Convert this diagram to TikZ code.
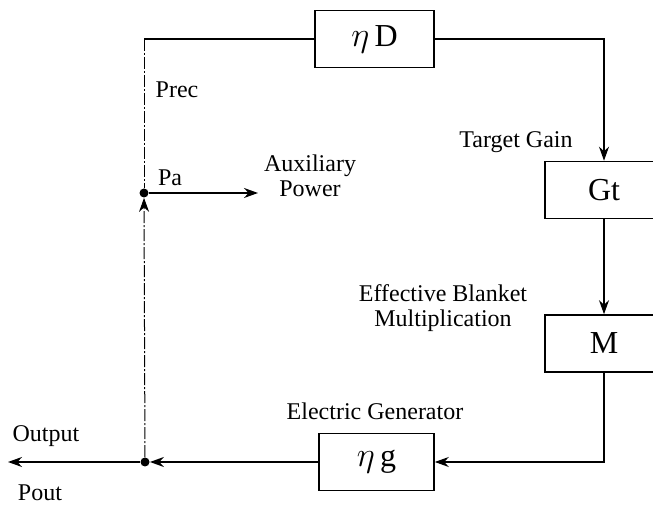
\documentclass[tikz,border=0pt]{standalone}
\usepackage{fontspec}
\setmainfont{Liberation Serif}
\usetikzlibrary{arrows.meta}

\begin{document}
\begin{tikzpicture}[x=.5pt,y=-.5pt,>={Stealth[length=7pt,width=5pt]},
 every node/.style={font=\fontsize{12}{12.5}\selectfont},
 block/.style={draw,line width=.8pt,minimum height=28.5pt,
   font=\fontsize{16}{18}\selectfont},
 link/.style={line width=.8pt},
 feed/.style={line width=.5pt,dash pattern=on 6pt off 1pt on 1pt off 1pt},
 junction/.style={circle,fill,inner sep=0pt,minimum size=4.5pt}]
 \clip (0,0) rectangle (653,506);
 \node[block,minimum width=59.5pt] (etaD) at (374.5,39) {$\eta$\,D};
 \node[block,minimum width=59pt] (Gt) at (604,190) {Gt};
 \node[block,minimum width=59pt] (M) at (604,343.5) {M};
 \node[block,minimum width=57.5pt] (etag) at (376.5,462) {$\eta$\,g};
 \node[junction] (pa) at (144,193) {};
 \node[junction] (out) at (145,462) {};
 \coordinate (tl) at (144,39);
 \coordinate (tr) at (604,39);
 \coordinate (br) at (604,462);
 \coordinate (aux) at (258,193);
 \coordinate (pout) at (8,462);
 \draw[link] (etaD.west) -- (tl);
 \draw[feed] (tl) -- (pa);
 \draw[link,->] (etaD.east) -- (tr) -- (Gt.north);
 \draw[link,->] (Gt) -- (M);
 \draw[link,->] (M) -- (br) -- (etag);
 \draw[link,->] (etag) -- (out);
 \draw[link,->] (out) -- (pout);
 \draw[feed,->] (out) -- (pa);
 \draw[link,->] (pa) -- (aux);
 \node (prec) at (177,90) {Prec};
 \node (palbl) at (170,178) {Pa};
 \node[align=center] (auxlbl) at (310,176) {Auxiliary\\Power};
 \node (gainlbl) at (516,142) {Target Gain};
 \node[align=center] (blanket) at (443,308) {Effective Blanket\\Multiplication};
 \node (genlbl) at (375,411) {Electric Generator};
 \node (outlbl) at (46,436) {Output};
 \node (poutlbl) at (40,493) {Pout};
\end{tikzpicture}
\end{document}
